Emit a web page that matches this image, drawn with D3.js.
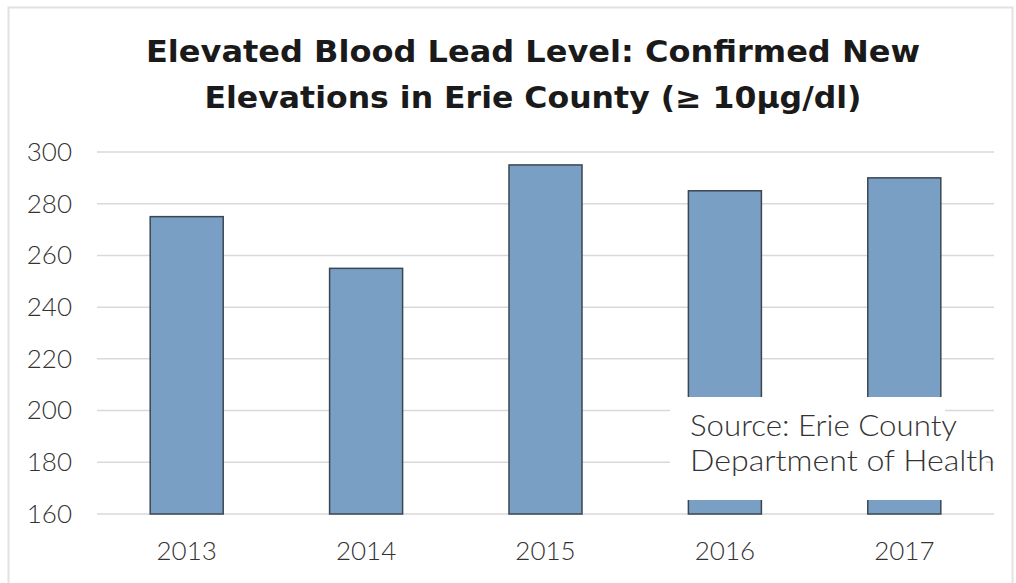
<!DOCTYPE html>
<html>
<head>
<meta charset="utf-8">
<script src="https://cdn.jsdelivr.net/npm/d3@7"></script>
<style>
  body { margin: 0; background: #fff; }
</style>
</head>
<body>
<div id="chart"></div>
<script>
// data
var years = ['2013', '2014', '2015', '2016', '2017'];
var counts = [275, 255, 295, 285, 290];
var y_ticks = [160, 180, 200, 220, 240, 260, 280, 300];
var title_lines = ['Elevated Blood Lead Level: Confirmed New', 'Elevations in Erie County (\u2265 10\u00b5g/dl)'];
var source_lines = ['Source: Erie County', 'Department of Health'];

var chart_width = 1016;
var chart_height = 583;
var plot = { left: 97, right: 994, top: 152, bottom: 514 };

var svg = d3.select('#chart')
            .append('svg')
            .attr('width', chart_width)
            .attr('height', chart_height);

// light frame round the picture
svg.append('rect')
    .attr('x', 8.5).attr('y', 7.5)
    .attr('width', 1004).attr('height', 590)
    .attr('fill', 'none')
    .attr('stroke', '#e2e2e2')
    .attr('stroke-width', 2);

// title, fitted to the widths seen in the picture
var title_widths = [774, 657];
svg.append('g')
    .selectAll('text')
    .data(title_lines)
    .enter()
    .append('text')
    .attr('x', 533)
    .attr('y', (d, i) => 62 + i * 46)
    .attr('text-anchor', 'middle')
    .attr('font-family', '"DejaVu Sans", sans-serif')
    .attr('font-size', 30)
    .attr('font-weight', 'bold')
    .attr('fill', '#1a1a1a')
    .attr('textLength', (d, i) => title_widths[i])
    .attr('lengthAdjust', 'spacingAndGlyphs')
    .text(d => d);

var x_scale = d3.scaleBand()
                .domain(years)
                .range([plot.left, plot.right])
                .paddingInner(0.593)
                .paddingOuter(0.2965);

var y_scale = d3.scaleLinear()
                .domain([160, 300])
                .range([plot.bottom, plot.top]);

// gridlines
svg.append('g')
    .selectAll('line')
    .data(y_ticks)
    .enter()
    .append('line')
    .attr('x1', plot.left)
    .attr('x2', plot.right)
    .attr('y1', d => y_scale(d))
    .attr('y2', d => y_scale(d))
    .attr('stroke', '#d9d9d9')
    .attr('stroke-width', 1.5);

// y labels
var y_axis = d3.axisLeft(y_scale).tickValues(y_ticks).tickSize(0).tickPadding(25);
var y_g = svg.append('g')
    .attr('transform', 'translate(' + plot.left + ',0)')
    .call(y_axis);
y_g.select('.domain').remove();
y_g.selectAll('text')
    .attr('font-family', 'Lato, sans-serif')
    .attr('font-size', 26)
    .attr('font-weight', 300)
    .attr('fill', '#333');

// bars
svg.append('g')
    .selectAll('rect')
    .data(counts)
    .enter()
    .append('rect')
    .attr('x', (d, i) => x_scale(years[i]))
    .attr('y', d => y_scale(d))
    .attr('width', x_scale.bandwidth())
    .attr('height', d => plot.bottom - y_scale(d))
    .attr('fill', '#7a9fc4')
    .attr('stroke', '#3b4652')
    .attr('stroke-width', 1.5);

// x labels
var x_axis = d3.axisBottom(x_scale).tickSize(0).tickPadding(28);
var x_g = svg.append('g')
    .attr('transform', 'translate(0,' + plot.bottom + ')')
    .call(x_axis);
x_g.select('.domain').remove();
x_g.selectAll('text')
    .attr('font-family', 'Lato, sans-serif')
    .attr('font-size', 26)
    .attr('font-weight', 300)
    .attr('fill', '#333');

// source note sitting on a white box over the bars
svg.append('rect')
    .attr('x', 670).attr('y', 397)
    .attr('width', 275).attr('height', 103)
    .attr('fill', '#fff');
svg.append('rect')
    .attr('x', 940).attr('y', 445)
    .attr('width', 46).attr('height', 32)
    .attr('fill', '#fff');

svg.append('g')
    .selectAll('text')
    .data(source_lines)
    .enter()
    .append('text')
    .attr('x', 690)
    .attr('y', (d, i) => 436 + i * 35)
    .attr('font-family', 'Lato, sans-serif')
    .attr('font-size', 29)
    .attr('font-weight', 300)
    .attr('fill', '#333')
    .attr('textLength', (d, i) => [267, 305][i])
    .attr('lengthAdjust', 'spacingAndGlyphs')
    .text(d => d);
</script>
</body>
</html>
